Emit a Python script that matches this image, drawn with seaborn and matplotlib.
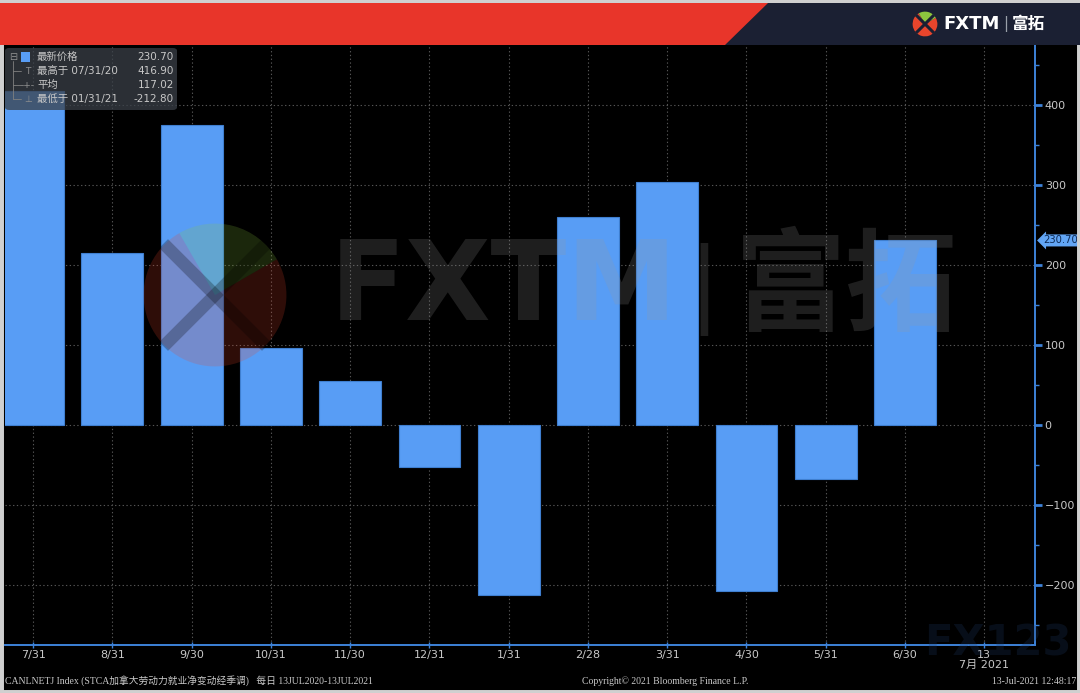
import matplotlib
matplotlib.use("Agg")
import matplotlib.pyplot as plt
import matplotlib.patches as mpatches
import numpy as np
import pandas as pd
import seaborn as sns

# data (thousands, monthly change)
months = ["7/31", "8/31", "9/30", "10/31", "11/30", "12/31",
          "1/31", "2/28", "3/31", "4/30", "5/31", "6/30"]
values = [416.9, 215.0, 375.0, 96.0, 55.0, -52.0,
          -212.8, 259.5, 304.0, -207.1, -68.0, 230.7]
extra_tick = "13\n7月 2021"
legend_rows = [("最新价格", "230.70"), ("最高于 07/31/20", "416.90"),
               ("平均", "117.02"), ("最低于 01/31/21", "-212.80")]

W, H = 1080, 693
BAR = "#589df5"
AXIS_BLUE = "#3d82d8"
TXT = "#c8c8c8"


def fx(x):
    return x / W


def fy(y):
    return 1 - y / H


def draw_logo(ax, alpha, gap_color, gap_alpha, gap_lw):
    ax.add_patch(mpatches.Wedge((0, 0), 1, 120, 390, color="#e8452c", alpha=alpha, lw=0))
    ax.add_patch(mpatches.Wedge((0, 0), 1, 30, 120, color="#8cc63e", alpha=alpha, lw=0))
    ax.plot([-0.72, 0.72], [-0.72, 0.72], color=gap_color, alpha=gap_alpha, lw=gap_lw,
            solid_capstyle="butt")
    ax.plot([-0.72, 0.72], [0.72, -0.72], color=gap_color, alpha=gap_alpha, lw=gap_lw,
            solid_capstyle="butt")
    ax.set_xlim(-1.05, 1.05)
    ax.set_ylim(-1.05, 1.05)
    ax.set_aspect("equal")
    ax.axis("off")


sns.set_style("dark", {"axes.facecolor": "black", "figure.facecolor": "black"})
plt.rcParams["font.family"] = ["DejaVu Sans", "Noto Sans CJK SC"]

fig = plt.figure(figsize=(W / 100, H / 100), dpi=100, facecolor="black")

# outer light frame
fig.patches.append(mpatches.Rectangle((0, 0), 1, 1, transform=fig.transFigure,
                                      fill=False, edgecolor="#d0d0d0", lw=5, zorder=0))

# top banner
fig.patches.append(mpatches.Rectangle((0, fy(45)), 1, 42 / H, transform=fig.transFigure,
                                      facecolor="#1b2033", lw=0, zorder=1))
fig.patches.append(mpatches.Polygon([(0, fy(3)), (fx(768), fy(3)), (fx(725), fy(45)), (0, fy(45))],
                                    closed=True, transform=fig.transFigure,
                                    facecolor="#e8352a", lw=0, zorder=2))
logo_ax = fig.add_axes([fx(912), fy(37), 26 / W, 26 / H], zorder=10)
draw_logo(logo_ax, 1.0, "#1b2033", 1.0, 2.2)
fig.text(fx(943), fy(24), "FXTM", color="white", fontsize=13, fontweight="bold",
         va="center", ha="left", family=["DejaVu Sans"], zorder=11)
fig.text(fx(1003), fy(24), "|", color="#9aa0aa", fontsize=11, va="center", ha="left", zorder=11)
fig.text(fx(1012), fy(24), "富拓", color="white", fontsize=12, fontweight="bold",
         va="center", ha="left", family=["Noto Sans CJK SC"], zorder=11)

# main axes
ax = fig.add_axes([fx(5), fy(645), 1030 / W, 600 / H])
df = pd.DataFrame({"month": months, "value": values})
sns.barplot(data=df, x="month", y="value", color=BAR, saturation=1, width=0.78,
            edgecolor="#3f7fd0", linewidth=0.8, ax=ax, zorder=3)

ax.set_xlim(-0.355, 12.64)
ax.set_ylim(-275, 475)
ax.set_xlabel("")
ax.set_ylabel("")

ax.set_xticks(list(range(len(months))) + [12])
ax.set_xticklabels(months + [extra_tick], linespacing=1.05)
ax.set_yticks([-200, -100, 0, 100, 200, 300, 400])
ax.set_yticks(np.arange(-250, 475, 50), minor=True)
ax.yaxis.tick_right()

ax.tick_params(axis="x", colors=AXIS_BLUE, labelcolor=TXT, labelsize=8,
               direction="inout", length=5, width=1, pad=1, bottom=True)
ax.tick_params(axis="y", which="major", colors=AXIS_BLUE, labelcolor=TXT, labelsize=8,
               direction="out", length=5, width=2, pad=2, right=True)
ax.tick_params(axis="y", which="minor", colors=AXIS_BLUE, direction="out",
               length=3, width=1, right=True)

ax.grid(True, which="major", color="#555555", linestyle=(0, (1.2, 2.2)), linewidth=0.8)
ax.set_axisbelow(True)
for side in ["top", "left"]:
    ax.spines[side].set_visible(False)
for side in ["bottom", "right"]:
    ax.spines[side].set_visible(True)
    ax.spines[side].set_color(AXIS_BLUE)
    ax.spines[side].set_linewidth(1.4)

# last value marker on the right axis
ax.annotate("230.70", xy=(1.0, values[-1]), xycoords=("axes fraction", "data"),
            xytext=(6, 0), textcoords="offset points", ha="left", va="center",
            fontsize=7.2, color="#0d2a55", annotation_clip=False,
            bbox=dict(boxstyle="larrow,pad=0.1", facecolor="#62a6f5", edgecolor="none"))

# watermark
wm_ax = fig.add_axes([fx(140), fy(370), 150 / W, 150 / H], zorder=5)
draw_logo(wm_ax, 0.2, "black", 0.25, 9)
fig.text(fx(330), fy(290), "FXTM", color="#9a9a9a", alpha=0.2, fontsize=80,
         fontweight="bold", va="center", ha="left", zorder=6, family=["DejaVu Sans"])
fig.text(fx(688), fy(290), "|", color="#9a9a9a", alpha=0.2, fontsize=66,
         va="center", ha="left", zorder=6)
fig.text(fx(735), fy(290), "富拓", color="#9a9a9a", alpha=0.2, fontsize=80,
         fontweight="bold", va="center", ha="left", zorder=6, family=["Noto Sans CJK SC"])
fig.text(fx(924), fy(643), "FX123", color="#1f3a66", alpha=0.25, fontsize=30,
         fontweight="bold", va="center", ha="left", zorder=6)

# legend box, top left
fig.patches.append(mpatches.FancyBboxPatch((fx(5), fy(110)), 172 / W, 62 / H,
                                           boxstyle="round,pad=0,rounding_size=0.004",
                                           transform=fig.transFigure, facecolor="#3a4048",
                                           alpha=0.75, edgecolor="none", zorder=7))
row_y = [57, 71, 85, 99]
icons = ["", "T", "-+-", "⊥"]
for i, ((label, val), yy) in enumerate(zip(legend_rows, row_y)):
    fig.text(fx(37), fy(yy), label, color=TXT, fontsize=7.5, va="center", ha="left",
             zorder=8)
    fig.text(fx(174), fy(yy), val, color=TXT, fontsize=7.5, va="center", ha="right",
             zorder=8)
    if icons[i]:
        fig.text(fx(28), fy(yy), icons[i], color="#909090", fontsize=6.5, va="center",
                 ha="center", zorder=8)
fig.patches.append(mpatches.Rectangle((fx(21), fy(62)), 9 / W, 10 / H, transform=fig.transFigure,
                                      facecolor=BAR, lw=0, zorder=8))
fig.text(fx(13), fy(57), "⊟", color="#909090", fontsize=7, va="center", ha="center", zorder=8)
fig.lines.append(plt.Line2D([fx(13), fx(13)], [fy(61), fy(99)], transform=fig.transFigure,
                            color="#808080", lw=0.6, zorder=8))
for yy in [71, 85, 99]:
    fig.lines.append(plt.Line2D([fx(13), fx(21)], [fy(yy), fy(yy)], transform=fig.transFigure,
                                color="#808080", lw=0.6, zorder=8))

# footer
foot = dict(color=TXT, fontsize=7, va="center", family=["Liberation Serif", "Noto Sans CJK SC"])
fig.text(fx(5), fy(681), "CANLNETJ Index (STCA加拿大劳动力就业净变动经季调)   每日 13JUL2020-13JUL2021",
         ha="left", **foot)
fig.text(fx(582), fy(681), "Copyright© 2021 Bloomberg Finance L.P.", ha="left", **foot)
fig.text(fx(1076), fy(682), "13-Jul-2021 12:48:17", ha="right", **foot)

fig.savefig("out.png", dpi=100, facecolor="black")
